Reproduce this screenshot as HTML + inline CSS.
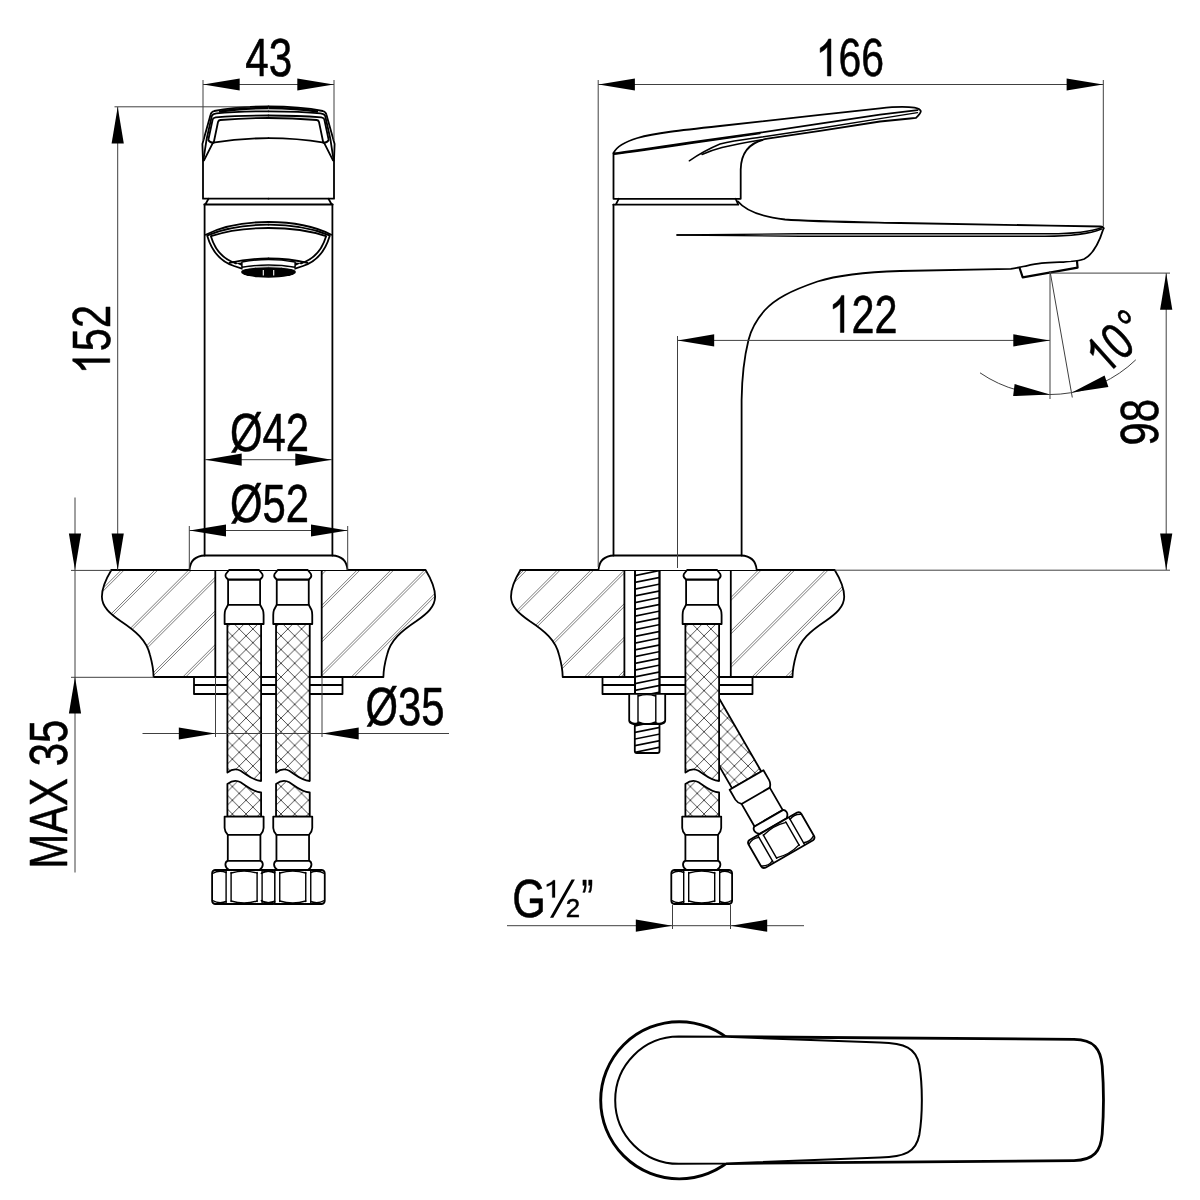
<!DOCTYPE html>
<html><head><meta charset="utf-8"><title>Faucet dimensions</title>
<style>
html,body{margin:0;padding:0;background:#fff}
svg{display:block;will-change:transform}
.k{fill:none;stroke:#000;stroke-width:1.8;stroke-linecap:round;stroke-linejoin:round}
.kw{fill:#fff;stroke:#000;stroke-width:1.8;stroke-linecap:round;stroke-linejoin:round}
.k2{fill:none;stroke:#000;stroke-width:1.4;stroke-linecap:round;stroke-linejoin:round}
.t{fill:none;stroke:#404040;stroke-width:1}
.a{fill:#000;stroke:none}
.h{fill:none;stroke:#5a5a5a;stroke-width:0.8}
text{font-family:"Liberation Sans",sans-serif;font-size:53px;fill:#000;stroke:#000;stroke-width:0.55px;stroke-linejoin:round}
</style></head><body>
<svg width="1200" height="1200" viewBox="0 0 1200 1200">
<rect width="1200" height="1200" fill="#fff"/>
<defs>
<path id="one" transform="scale(0.025879,-0.02525)" d="M763 0H583V1147Q518 1085 412.5 1023T223 930V1104Q373 1174.5 485 1274.5T644 1469H763V0Z" fill="#000" stroke="#000" stroke-width="21" stroke-linejoin="round"/>
<pattern id="braid" width="13.7" height="13.7" patternUnits="userSpaceOnUse" patternTransform="translate(-4.9,629)">
<path d="M0,0L13.7,13.7M13.7,0L0,13.7" stroke="#3a3a3a" stroke-width="0.9" fill="none"/>
</pattern>

<pattern id="braidG" width="13.7" height="13.7" patternUnits="userSpaceOnUse" patternTransform="translate(727.5,731.7)"><path d="M0,0L13.7,13.7M13.7,0L0,13.7" stroke="#3a3a3a" stroke-width="0.9" fill="none"/></pattern>
<path id="ctR" d="M53.2,570 L157.1,570 C162,578 166.6,588 166.6,596.7 C166.6,607 158,614 148,621 C133,631 122,640 118.5,655 C116,664 115,670 114.9,677 L53.2,677 Z"/>
<clipPath id="clipF"><use href="#ctR" transform="translate(268.5,0)"/><use href="#ctR" transform="translate(268.5,0) scale(-1,1)"/></clipPath>
<clipPath id="clipS"><use href="#ctR" transform="translate(677.6,0)"/><use href="#ctR" transform="translate(677.6,0) scale(-1,1)"/></clipPath>
<g id="hend">
<path class="kw" d="M-19.5,-53.4 L19.5,-53.4 L19.5,-42 Q19.3,-38 16.3,-35.2 L16.3,-9.2 L-16.3,-9.2 L-16.3,-35.2 Q-19.3,-38 -19.5,-42 Z"/>
<path class="k" d="M-16.3,-35.2 L16.3,-35.2"/>
<path class="kw" d="M-16.3,-9.2 Q-18.7,-8.5 -18.7,-5.5 Q-18.7,-2.5 -15.5,-0.2 L15.5,-0.2 Q18.7,-2.5 18.7,-5.5 Q18.7,-8.5 16.3,-9.2 Z"/>
<path class="kw" d="M-29.0,0 L29.0,0 Q32.0,0.5 32.0,3.5 L32.0,30.5 Q32.0,33.5 29.0,34.0 L-29.0,34.0 Q-32.0,33.5 -32.0,30.5 L-32.0,3.5 Q-32.0,0.5 -29.0,0 Z"/>
<path class="k2" d="M-18,0.5 L-18,33.5 M-13,2.5 L-13,31.5 M18,0.5 L18,33.5 M13,2.5 L13,31.5"/>
<path class="k2" d="M-13,3 Q0,-0.8 13,3 M-13,31.0 Q0,34.8 13,31.0"/>
<path class="k2" d="M-31.5,3.5 Q-25.0,-0.3 -18,2.5 M-31.5,30.5 Q-25.0,34.3 -18,31.5 M31.5,3.5 Q25.0,-0.3 18,2.5 M31.5,30.5 Q25.0,34.3 18,31.5"/>
</g>
<g id="hend2">
<path class="kw" d="M-19.5,-53.4 L19.5,-53.4 L19.5,-42 Q19.3,-38 16.3,-35.2 L16.3,-9.2 L-16.3,-9.2 L-16.3,-35.2 Q-19.3,-38 -19.5,-42 Z"/>
<path class="k" d="M-16.3,-35.2 L16.3,-35.2"/>
<path class="kw" d="M-16.3,-9.2 Q-18.7,-8.5 -18.7,-5.5 Q-18.7,-2.5 -15.5,-0.2 L15.5,-0.2 Q18.7,-2.5 18.7,-5.5 Q18.7,-8.5 16.3,-9.2 Z"/>
<path d="M-17.5,0 L32.0,0 L32.0,34.0 L-17.5,34.0 Z" fill="#fff"/>
<path class="k" d="M-18,0 L29.0,0 Q32.0,0.5 32.0,3.5 L32.0,30.5 Q32.0,33.5 29.0,34.0 L-18,34.0"/>
<path class="k2" d="M-18,0.5 L-18,33.5 M-13,2.5 L-13,31.5 M18,0.5 L18,33.5 M13,2.5 L13,31.5"/>
<path class="k2" d="M-13,3 Q0,-0.8 13,3 M-13,31.0 Q0,34.8 13,31.0"/>
<path class="k2" d="M-31.5,3.5 Q-25.0,-0.3 -18,2.5 M-31.5,30.5 Q-25.0,34.3 -18,31.5 M31.5,3.5 Q25.0,-0.3 18,2.5 M31.5,30.5 Q25.0,34.3 18,31.5"/>
</g>
<g id="hend3">
<path class="kw" d="M-19.5,-53.4 L19.5,-53.4 L19.5,-42 Q19.3,-38 16.3,-35.2 L16.3,-9.2 L-16.3,-9.2 L-16.3,-35.2 Q-19.3,-38 -19.5,-42 Z"/>
<path class="k" d="M-16.3,-35.2 L16.3,-35.2"/>
<path class="kw" d="M-16.3,-9.2 Q-18.7,-8.5 -18.7,-5.5 Q-18.7,-2.5 -15.5,-0.2 L15.5,-0.2 Q18.7,-2.5 18.7,-5.5 Q18.7,-8.5 16.3,-9.2 Z"/>
<path class="kw" d="M-27.5,0 L27.5,0 Q30.5,0.5 30.5,3.5 L30.5,28.5 Q30.5,31.5 27.5,32.0 L-27.5,32.0 Q-30.5,31.5 -30.5,28.5 L-30.5,3.5 Q-30.5,0.5 -27.5,0 Z"/>
<path class="k2" d="M-18,0.5 L-18,31.5 M-13,2.5 L-13,29.5 M18,0.5 L18,31.5 M13,2.5 L13,29.5"/>
<path class="k2" d="M-13,3 Q0,-0.8 13,3 M-13,29.0 Q0,32.8 13,29.0"/>
<path class="k2" d="M-30.0,3.5 Q-24.2,-0.3 -18,2.5 M-30.0,28.5 Q-24.2,32.3 -18,29.5 M30.0,3.5 Q24.2,-0.3 18,2.5 M30.0,28.5 Q24.2,32.3 18,29.5"/>
</g>
<g id="hend4">
<path class="kw" d="M-19.5,-53.4 L19.5,-53.4 L19.5,-42 Q19.3,-38 16.3,-35.2 L16.3,-9.2 L-16.3,-9.2 L-16.3,-35.2 Q-19.3,-38 -19.5,-42 Z"/>
<path class="k" d="M-16.3,-35.2 L16.3,-35.2"/>
<path class="kw" d="M-16.3,-9.2 Q-18.7,-8.5 -18.7,-5.5 Q-18.7,-2.5 -15.5,-0.2 L15.5,-0.2 Q18.7,-2.5 18.7,-5.5 Q18.7,-8.5 16.3,-9.2 Z"/>
<path class="kw" d="M-27.4,0 L27.4,0 Q30.4,0.5 30.4,3.5 L30.4,30.5 Q30.4,33.5 27.4,34.0 L-27.4,34.0 Q-30.4,33.5 -30.4,30.5 L-30.4,3.5 Q-30.4,0.5 -27.4,0 Z"/>
<path class="k2" d="M-18,0.5 L-18,33.5 M-13,2.5 L-13,31.5 M18,0.5 L18,33.5 M13,2.5 L13,31.5"/>
<path class="k2" d="M-13,3 Q0,-0.8 13,3 M-13,31.0 Q0,34.8 13,31.0"/>
<path class="k2" d="M-29.9,3.5 Q-24.2,-0.3 -18,2.5 M-29.9,30.5 Q-24.2,34.3 -18,31.5 M29.9,3.5 Q24.2,-0.3 18,2.5 M29.9,30.5 Q24.2,34.3 18,31.5"/>
</g>
<g id="htop">
<path class="kw" d="M-16,579.5 L-16,604.8 L16,604.8 L16,579.5 Z"/>
<path class="kw" d="M-15,570 L-18.2,574 Q-19.2,576.5 -17.5,578 L-16,579.5 L16,579.5 L17.5,578 Q19.2,576.5 18.2,574 L15,570 Z"/>
<path class="kw" d="M-16,604.8 L-18.8,610 Q-19.5,612 -19.5,615 L-19.5,624 L19.5,624 L19.5,615 Q19.5,612 18.8,610 L16,604.8 Z"/>
</g>
</defs>
<g id="front">
<g clip-path="url(#clipF)">
<line class="h" x1="-210.7" y1="565" x2="-327.7" y2="682"/>
<line class="h" x1="-207.8" y1="565" x2="-324.8" y2="682"/>
<line class="h" x1="-177.0" y1="565" x2="-294.0" y2="682"/>
<line class="h" x1="-174.1" y1="565" x2="-291.1" y2="682"/>
<line class="h" x1="-143.3" y1="565" x2="-260.3" y2="682"/>
<line class="h" x1="-140.4" y1="565" x2="-257.4" y2="682"/>
<line class="h" x1="-109.6" y1="565" x2="-226.6" y2="682"/>
<line class="h" x1="-106.7" y1="565" x2="-223.7" y2="682"/>
<line class="h" x1="-75.9" y1="565" x2="-192.9" y2="682"/>
<line class="h" x1="-73.0" y1="565" x2="-190.0" y2="682"/>
<line class="h" x1="-42.2" y1="565" x2="-159.2" y2="682"/>
<line class="h" x1="-39.3" y1="565" x2="-156.3" y2="682"/>
<line class="h" x1="-8.5" y1="565" x2="-125.5" y2="682"/>
<line class="h" x1="-5.6" y1="565" x2="-122.6" y2="682"/>
<line class="h" x1="25.2" y1="565" x2="-91.8" y2="682"/>
<line class="h" x1="28.1" y1="565" x2="-88.9" y2="682"/>
<line class="h" x1="58.9" y1="565" x2="-58.1" y2="682"/>
<line class="h" x1="61.8" y1="565" x2="-55.2" y2="682"/>
<line class="h" x1="92.6" y1="565" x2="-24.4" y2="682"/>
<line class="h" x1="95.5" y1="565" x2="-21.5" y2="682"/>
<line class="h" x1="126.3" y1="565" x2="9.3" y2="682"/>
<line class="h" x1="129.2" y1="565" x2="12.2" y2="682"/>
<line class="h" x1="160.0" y1="565" x2="43.0" y2="682"/>
<line class="h" x1="162.9" y1="565" x2="45.9" y2="682"/>
<line class="h" x1="193.7" y1="565" x2="76.7" y2="682"/>
<line class="h" x1="196.6" y1="565" x2="79.6" y2="682"/>
<line class="h" x1="227.4" y1="565" x2="110.4" y2="682"/>
<line class="h" x1="230.3" y1="565" x2="113.3" y2="682"/>
<line class="h" x1="261.1" y1="565" x2="144.1" y2="682"/>
<line class="h" x1="264.0" y1="565" x2="147.0" y2="682"/>
<line class="h" x1="294.8" y1="565" x2="177.8" y2="682"/>
<line class="h" x1="297.7" y1="565" x2="180.7" y2="682"/>
<line class="h" x1="328.5" y1="565" x2="211.5" y2="682"/>
<line class="h" x1="331.4" y1="565" x2="214.4" y2="682"/>
<line class="h" x1="362.2" y1="565" x2="245.2" y2="682"/>
<line class="h" x1="365.1" y1="565" x2="248.1" y2="682"/>
<line class="h" x1="395.9" y1="565" x2="278.9" y2="682"/>
<line class="h" x1="398.8" y1="565" x2="281.8" y2="682"/>
<line class="h" x1="429.6" y1="565" x2="312.6" y2="682"/>
<line class="h" x1="432.5" y1="565" x2="315.5" y2="682"/>
<line class="h" x1="463.3" y1="565" x2="346.3" y2="682"/>
<line class="h" x1="466.2" y1="565" x2="349.2" y2="682"/>
<line class="h" x1="497.0" y1="565" x2="380.0" y2="682"/>
<line class="h" x1="499.9" y1="565" x2="382.9" y2="682"/>
</g>
<path class="k" d="M194,677 L194,694 L342.5,694 L342.5,677 Z M194,685 L342.5,685"/>
<g transform="translate(268.5,0)">
<path class="k" d="M-53.2,570 L-53.2,677 M53.2,570 L53.2,677"/>
<path class="k" d="M-157.1,570 L157.1,570 C162,578 166.6,588 166.6,596.7 C166.6,607 158,614 148,621 C133,631 122,640 118.5,655 C116,664 115,670 114.9,677 L53.2,677"/>
<g transform="scale(-1,1)">
<path class="k" d="M157.1,570 C162,578 166.6,588 166.6,596.7 C166.6,607 158,614 148,621 C133,631 122,640 118.5,655 C116,664 115,670 114.9,677 L53.2,677"/>
</g>
</g>
<path class="kw" d="M189.5,570 Q190.5,556 205,555.5 L332,555.5 Q346.5,556 347.5,570"/>
<path class="k" d="M204.6,204.5 L204.6,555.5 M332.4,204.5 L332.4,555.5"/>
<path class="k" d="M204.3,204.5 L332.7,204.5 M208.5,198.7 L205.3,204.5 M328.5,198.7 L331.7,204.5"/>
<g id="fh" style="stroke-linecap:butt">
<path d="M268.5,108 C248,108 230,109.8 219,111.6" fill="none" stroke="#000" stroke-width="2.4"/>
<path class="k" d="M268.5,106.4 C248,106.4 226,108.6 214.3,111 Q211.3,111.8 210.7,114.3 L202.4,144 L203,160.7 L203,198.7 L268.5,198.7"/>
<path class="k" d="M268.5,111.3 C250,111.3 232,111.7 216.5,113.4 Q212.6,113.9 211.8,116 L206.7,138.7 L203.3,160.7"/>
<path class="k" d="M268.5,115.5 C250,115.5 230,116.2 215.7,117.3 Q213.2,117.7 212.7,119.3 L208.3,140 Q209.5,142.5 213,142.7"/>
<path class="k" d="M268.5,118 C250,118 235,118.8 220.3,120 Q218.4,120.3 218,122 L213.7,142.7"/>
<path class="k" d="M213,142.7 C232,139.5 250,138.2 268.5,138.2"/>
<path class="k" d="M213,142.7 L204,160.3"/>
<path class="k" d="M205.7,234.7 C222,226.5 245,222 268.5,222"/>
<path class="k" d="M207.5,235.3 C224,228.5 246,224.7 268.5,224.7"/>
<path class="k" d="M211,236.2 C226,231 247,228 268.5,228"/>
<path class="k" d="M207.3,236 C212,252 222,262 234,266 L242,268.7"/>
<path class="k" d="M211,236.5 C215,250 224,259.5 236,263.3"/>
<path class="k" d="M229.5,262.8 C243,259.6 256,258.5 268.5,258.5"/>
<path class="k" d="M234,262 L236,263.3"/>
</g>
<use href="#fh" transform="translate(537,0) scale(-1,1)"/>
<ellipse cx="268.5" cy="272" rx="27.4" ry="5.8" fill="#000"/>
<path d="M241.9,262 Q268.5,257 295.1,262 L295.1,267.3 Q268.5,262.7 241.9,267.3 Z" fill="#fff" stroke="#000" stroke-width="1.5" stroke-linejoin="round"/>
<path d="M242.5,268.8 Q268.5,264.6 294.5,268.8" fill="none" stroke="#fff" stroke-width="0.9"/>
<path d="M263.3,270 L263.3,275.5 M273.7,270 L273.7,275.5" stroke="#fff" stroke-width="1.1" fill="none"/>
<path d="M236,263 L241.9,262.6 L241.9,266 Z M301,263 L295.1,262.6 L295.1,266 Z" fill="#000"/>
<g transform="translate(244.10,0)">
<path d="M-16.7,624 L-16.7,772.5 C-12.5,769.3 -8,768.3 -3.5,770.8 C2.5,774.5 8,780.3 17,781 L17,624 Z" fill="#fff"/>
<path d="M-16.7,624 L-16.7,772.5 C-12.5,769.3 -8,768.3 -3.5,770.8 C2.5,774.5 8,780.3 17,781 L17,624 Z" class="k" style="fill:url(#braid)"/>
<path d="M-16.7,816.6 L-16.7,784 C-12.5,780.8 -8,779.8 -3.5,782.3 C2.5,786 8,791.8 17,792.5 L17,816.6 Z" fill="#fff"/>
<path d="M-16.7,816.6 L-16.7,784 C-12.5,780.8 -8,779.8 -3.5,782.3 C2.5,786 8,791.8 17,792.5 L17,816.6 Z" class="k" style="fill:url(#braid)"/>
<use href="#htop"/>
</g>
<g transform="translate(292.75,0)">
<path d="M-16.7,624 L-16.7,772.5 C-12.5,769.3 -8,768.3 -3.5,770.8 C2.5,774.5 8,780.3 17,781 L17,624 Z" fill="#fff"/>
<path d="M-16.7,624 L-16.7,772.5 C-12.5,769.3 -8,768.3 -3.5,770.8 C2.5,774.5 8,780.3 17,781 L17,624 Z" class="k" style="fill:url(#braid)"/>
<path d="M-16.7,816.6 L-16.7,784 C-12.5,780.8 -8,779.8 -3.5,782.3 C2.5,786 8,791.8 17,792.5 L17,816.6 Z" fill="#fff"/>
<path d="M-16.7,816.6 L-16.7,784 C-12.5,780.8 -8,779.8 -3.5,782.3 C2.5,786 8,791.8 17,792.5 L17,816.6 Z" class="k" style="fill:url(#braid)"/>
<use href="#htop"/>
</g>
<use href="#hend" transform="translate(244.1,870)"/>
<use href="#hend2" transform="translate(292.75,870)"/>
<line class="t" x1="203.0" y1="80.0" x2="203.0" y2="140.0"/>
<line class="t" x1="334.0" y1="80.0" x2="334.0" y2="140.0"/>
<line class="t" x1="203.0" y1="84.5" x2="334.0" y2="84.5"/>
<polygon class="a" points="203.3,84.5 239.7,78.4 239.7,90.6"/>
<polygon class="a" points="333.7,84.5 297.3,78.4 297.3,90.6"/>
<g transform="translate(245.2,76.0) scale(0.796,1)">
<text x="0.00" y="0">43</text>
</g>
<line class="t" x1="114.5" y1="106.8" x2="250.0" y2="106.8"/>
<line class="t" x1="117.7" y1="107.0" x2="117.7" y2="570.0"/>
<polygon class="a" points="117.7,107.0 111.6,143.4 123.8,143.4"/>
<polygon class="a" points="117.7,570.0 111.6,533.6 123.8,533.6"/>
<g transform="translate(109.8,374.2) rotate(-90) scale(0.782,1)">
<use href="#one" x="0" y="0" transform="translate(0.00,0)"/>
<text x="29.48" y="0">52</text>
</g>
<line class="t" x1="205.0" y1="459.7" x2="332.0" y2="459.7"/>
<polygon class="a" points="205.3,459.7 241.7,453.6 241.7,465.8"/>
<polygon class="a" points="331.7,459.7 295.3,453.6 295.3,465.8"/>
<g transform="translate(229.9,451.0) scale(0.789,1)">
<text x="0.00" y="0">Ø42</text>
</g>
<line class="t" x1="189.3" y1="526.0" x2="189.3" y2="570.0"/>
<line class="t" x1="347.7" y1="526.0" x2="347.7" y2="570.0"/>
<line class="t" x1="189.3" y1="530.5" x2="347.7" y2="530.5"/>
<polygon class="a" points="189.6,530.5 226.0,524.4 226.0,536.6"/>
<polygon class="a" points="347.4,530.5 311.0,524.4 311.0,536.6"/>
<g transform="translate(229.9,522.0) scale(0.789,1)">
<text x="0.00" y="0">Ø52</text>
</g>
<line class="t" x1="71.0" y1="570.4" x2="111.0" y2="570.4"/>
<line class="t" x1="71.0" y1="677.3" x2="154.0" y2="677.3"/>
<line class="t" x1="75.0" y1="497.5" x2="75.0" y2="570.0"/>
<line class="t" x1="75.0" y1="570.0" x2="75.0" y2="872.5"/>
<polygon class="a" points="75.0,570.0 68.9,533.6 81.1,533.6"/>
<polygon class="a" points="75.0,677.0 68.9,713.4 81.1,713.4"/>
<g transform="translate(67.0,868.7) rotate(-90) scale(0.790,1)">
<text x="0.00" y="0">MAX 35</text>
</g>
<line class="t" x1="215.5" y1="677.0" x2="215.5" y2="737.0"/>
<line class="t" x1="322.0" y1="677.0" x2="322.0" y2="737.0"/>
<line class="t" x1="142.5" y1="733.5" x2="449.0" y2="733.5"/>
<polygon class="a" points="215.2,733.5 178.8,727.4 178.8,739.6"/>
<polygon class="a" points="322.3,733.5 358.7,727.4 358.7,739.6"/>
<g transform="translate(365.4,724.6) scale(0.789,1)">
<text x="0.00" y="0">Ø35</text>
</g>
</g>
<g id="side">
<g clip-path="url(#clipS)">
<line class="h" x1="428.4" y1="565" x2="311.4" y2="682"/>
<line class="h" x1="431.3" y1="565" x2="314.3" y2="682"/>
<line class="h" x1="461.9" y1="565" x2="344.9" y2="682"/>
<line class="h" x1="464.8" y1="565" x2="347.8" y2="682"/>
<line class="h" x1="495.4" y1="565" x2="378.4" y2="682"/>
<line class="h" x1="498.3" y1="565" x2="381.3" y2="682"/>
<line class="h" x1="528.9" y1="565" x2="411.9" y2="682"/>
<line class="h" x1="531.8" y1="565" x2="414.8" y2="682"/>
<line class="h" x1="562.4" y1="565" x2="445.4" y2="682"/>
<line class="h" x1="565.3" y1="565" x2="448.3" y2="682"/>
<line class="h" x1="595.9" y1="565" x2="478.9" y2="682"/>
<line class="h" x1="598.8" y1="565" x2="481.8" y2="682"/>
<line class="h" x1="629.4" y1="565" x2="512.4" y2="682"/>
<line class="h" x1="632.3" y1="565" x2="515.3" y2="682"/>
<line class="h" x1="662.9" y1="565" x2="545.9" y2="682"/>
<line class="h" x1="665.8" y1="565" x2="548.8" y2="682"/>
<line class="h" x1="696.4" y1="565" x2="579.4" y2="682"/>
<line class="h" x1="699.3" y1="565" x2="582.3" y2="682"/>
<line class="h" x1="729.9" y1="565" x2="612.9" y2="682"/>
<line class="h" x1="732.8" y1="565" x2="615.8" y2="682"/>
<line class="h" x1="763.4" y1="565" x2="646.4" y2="682"/>
<line class="h" x1="766.3" y1="565" x2="649.3" y2="682"/>
<line class="h" x1="796.9" y1="565" x2="679.9" y2="682"/>
<line class="h" x1="799.8" y1="565" x2="682.8" y2="682"/>
<line class="h" x1="830.4" y1="565" x2="713.4" y2="682"/>
<line class="h" x1="833.3" y1="565" x2="716.3" y2="682"/>
<line class="h" x1="863.9" y1="565" x2="746.9" y2="682"/>
<line class="h" x1="866.8" y1="565" x2="749.8" y2="682"/>
<line class="h" x1="897.4" y1="565" x2="780.4" y2="682"/>
<line class="h" x1="900.3" y1="565" x2="783.3" y2="682"/>
<line class="h" x1="930.9" y1="565" x2="813.9" y2="682"/>
<line class="h" x1="933.8" y1="565" x2="816.8" y2="682"/>
<line class="h" x1="964.4" y1="565" x2="847.4" y2="682"/>
<line class="h" x1="967.3" y1="565" x2="850.3" y2="682"/>
</g>
<path class="k" d="M602.5,677 L602.5,694 L752.5,694 L752.5,677 Z M602.5,685 L752.5,685"/>
<g transform="translate(677.6,0)">
<path class="k" d="M-53.2,570 L-53.2,677 M53.2,570 L53.2,677"/>
<path class="k" d="M-157.1,570 L157.1,570 C162,578 166.6,588 166.6,596.7 C166.6,607 158,614 148,621 C133,631 122,640 118.5,655 C116,664 115,670 114.9,677 L53.2,677"/>
<g transform="scale(-1,1)">
<path class="k" d="M157.1,570 C162,578 166.6,588 166.6,596.7 C166.6,607 158,614 148,621 C133,631 122,640 118.5,655 C116,664 115,670 114.9,677 L53.2,677"/>
</g>
</g>
<clipPath id="rodc"><rect x="635" y="570" width="24.5" height="183"/></clipPath>
<rect class="kw" x="635" y="570" width="24.5" height="124.5"/>
<path class="kw" d="M634.8,724 L634.8,751 Q634.8,753 636.8,753 L657.5,753 Q659.5,753 659.5,751 L659.5,724 Z"/>
<g clip-path="url(#rodc)">
<line x1="634" y1="562.3" x2="661" y2="556.8" stroke="#000" stroke-width="1.7"/>
<line x1="634" y1="569.1" x2="661" y2="563.6" stroke="#000" stroke-width="1.7"/>
<line x1="634" y1="575.8" x2="661" y2="570.3" stroke="#000" stroke-width="1.7"/>
<line x1="634" y1="582.6" x2="661" y2="577.1" stroke="#000" stroke-width="1.7"/>
<line x1="634" y1="589.3" x2="661" y2="583.8" stroke="#000" stroke-width="1.7"/>
<line x1="634" y1="596.1" x2="661" y2="590.6" stroke="#000" stroke-width="1.7"/>
<line x1="634" y1="602.8" x2="661" y2="597.3" stroke="#000" stroke-width="1.7"/>
<line x1="634" y1="609.6" x2="661" y2="604.1" stroke="#000" stroke-width="1.7"/>
<line x1="634" y1="616.3" x2="661" y2="610.8" stroke="#000" stroke-width="1.7"/>
<line x1="634" y1="623.1" x2="661" y2="617.6" stroke="#000" stroke-width="1.7"/>
<line x1="634" y1="629.8" x2="661" y2="624.3" stroke="#000" stroke-width="1.7"/>
<line x1="634" y1="636.6" x2="661" y2="631.1" stroke="#000" stroke-width="1.7"/>
<line x1="634" y1="643.3" x2="661" y2="637.8" stroke="#000" stroke-width="1.7"/>
<line x1="634" y1="650.1" x2="661" y2="644.6" stroke="#000" stroke-width="1.7"/>
<line x1="634" y1="656.8" x2="661" y2="651.3" stroke="#000" stroke-width="1.7"/>
<line x1="634" y1="663.6" x2="661" y2="658.1" stroke="#000" stroke-width="1.7"/>
<line x1="634" y1="670.3" x2="661" y2="664.8" stroke="#000" stroke-width="1.7"/>
<line x1="634" y1="677.1" x2="661" y2="671.6" stroke="#000" stroke-width="1.7"/>
<line x1="634" y1="683.8" x2="661" y2="678.3" stroke="#000" stroke-width="1.7"/>
<line x1="634" y1="690.6" x2="661" y2="685.1" stroke="#000" stroke-width="1.7"/>
<line x1="634" y1="697.3" x2="661" y2="691.8" stroke="#000" stroke-width="1.7"/>
<line x1="634" y1="719.3" x2="661" y2="713.8" stroke="#000" stroke-width="1.7"/>
<line x1="634" y1="726.0" x2="661" y2="720.5" stroke="#000" stroke-width="1.7"/>
<line x1="634" y1="732.6" x2="661" y2="727.1" stroke="#000" stroke-width="1.7"/>
<line x1="634" y1="739.2" x2="661" y2="733.8" stroke="#000" stroke-width="1.7"/>
<line x1="634" y1="745.9" x2="661" y2="740.4" stroke="#000" stroke-width="1.7"/>
<line x1="634" y1="752.5" x2="661" y2="747.0" stroke="#000" stroke-width="1.7"/>
<line x1="634" y1="759.2" x2="661" y2="753.7" stroke="#000" stroke-width="1.7"/>
</g>
<rect class="k" x="635" y="570" width="24.5" height="124.5"/>
<path class="kw" d="M629.2,693.8 L665.2,693.8 L665.2,720.5 Q665,723.5 661,724 L633.4,724 Q629.4,723.5 629.2,720.5 Z"/>
<path class="k2" d="M638,695 L638,723 M655.8,695 L655.8,723 M638.3,696 Q647,693.3 655.5,696 M638.3,722 Q647,726 655.5,722 M629.5,721 Q633.5,725 638,722.5 M665,721 Q660.5,725 655.8,722.5"/>
<path class="kw" d="M598.5,570 Q599.5,556 614,555.5 L741,555.5 Q755.5,556 756.7,570"/>
<path class="k" d="M613.5,204.7 L613.5,555.5"/>
<path class="k" d="M741.6,555.5 L741.6,400 C741.9,380 743,362 748.5,340 C751,330 757,319 765,310 C775,299 790,291 817.5,281.5 C840,274.5 870,272 900,271 L1010.8,268.8 C1022,267.5 1030,264.5 1041.7,263.2 C1052,262.2 1062,262.2 1070.8,261.6 C1077,261 1081,260.3 1084.2,259 C1092,255 1099,243 1103.5,228.5"/>
<path class="k" d="M738,201.5 C745,210 760,216.5 785,219.5 C810,221.5 850,222 900,223 L1050,225.6 L1100,226.5 Q1104,226.8 1103.6,228.5"/>
<path class="k2" d="M677,235 L800,233.8 L1050,233.8 C1075,233.8 1090,232 1102,227.5"/>
<path class="k2" d="M677,235 L800,236.2 L1045,236.2 C1072,236.2 1088,234.5 1101.5,229"/>
<path d="M1019.6,268 L1022.7,277.4 L1077.6,267.6 L1077,261.5" fill="#fff" stroke="#000" stroke-width="2.2" stroke-linejoin="round" stroke-linecap="round"/>
<path class="k" d="M613.3,204.7 L738.3,204.7 M618.7,198.8 L615.8,204.7 M735.7,198.8 L738.2,204.5"/>
<path class="k" d="M740.7,198.8 L613.5,198.8 L613.5,153 C616,148 624,142 637.5,138 C655,133 680,130.3 720,126 L820,114.8 L880,108.3 C895,106.6 908,106.6 914.5,107.7 Q920,108.8 920.8,111 Q921,113 916,117.8 L910,118.5 L880,121.5 L820,130.8 L767.5,138.7 C752,141.5 741,150 740.7,169.5 Z"/>
<path class="k" d="M613.5,153.5 C630,151.5 660,147 690,142.5 L760,132.7 L820,123.7 L880,114.7 L917.5,110.2"/>
<path class="k2" d="M614,154.2 C630,152.3 660,148 690,143.5 L760,133.6"/>
<path class="k2" d="M689.3,160.8 C697,155.5 707,149.5 720,144 C735,140.3 748,139 760,137.3 L820,128.3 L880,118.6 L917.5,112.6"/>
<path class="k2" d="M702,154.5 C710,151 716,149 722,147.5 C735,144.3 748,142 762,139.7"/>
<path d="M732.1,788.4 L701.3,735.0 L710.5,683.5 L761.3,771.5 Z" fill="#fff"/>
<path d="M732.1,788.4 L701.3,735.0 L710.5,683.5 L761.3,771.5 Z" class="k" style="fill:url(#braidG)"/>
<use href="#hend3" transform="translate(773.25,826.25) rotate(-30.0)"/>
<g transform="translate(702.10,0)">
<path d="M-16.7,624 L-16.7,772.5 C-12.5,769.3 -8,768.3 -3.5,770.8 C2.5,774.5 8,780.3 17,781 L17,624 Z" fill="#fff"/>
<path d="M-16.7,624 L-16.7,772.5 C-12.5,769.3 -8,768.3 -3.5,770.8 C2.5,774.5 8,780.3 17,781 L17,624 Z" class="k" style="fill:url(#braid)"/>
<path d="M-16.7,816.6 L-16.7,784 C-12.5,780.8 -8,779.8 -3.5,782.3 C2.5,786 8,791.8 17,792.5 L17,816.6 Z" fill="#fff"/>
<path d="M-16.7,816.6 L-16.7,784 C-12.5,780.8 -8,779.8 -3.5,782.3 C2.5,786 8,791.8 17,792.5 L17,816.6 Z" class="k" style="fill:url(#braid)"/>
<use href="#htop"/>
</g>
<use href="#hend4" transform="translate(701.7,870)"/>
<line class="t" x1="598.2" y1="80.0" x2="598.2" y2="567.0"/>
<line class="t" x1="1103.3" y1="80.0" x2="1103.3" y2="226.0"/>
<line class="t" x1="598.2" y1="84.5" x2="1103.3" y2="84.5"/>
<polygon class="a" points="598.5,84.5 634.9,78.4 634.9,90.6"/>
<polygon class="a" points="1103.0,84.5 1066.6,78.4 1066.6,90.6"/>
<g transform="translate(815.7,76.0) scale(0.773,1)">
<use href="#one" x="0" y="0" transform="translate(0.00,0)"/>
<text x="29.48" y="0">66</text>
</g>
<line class="t" x1="677.5" y1="336.0" x2="677.5" y2="568.0"/>
<line class="t" x1="677.5" y1="340.4" x2="1050.0" y2="340.4"/>
<polygon class="a" points="677.8,340.4 714.2,334.3 714.2,346.5"/>
<polygon class="a" points="1049.7,340.4 1013.3,334.3 1013.3,346.5"/>
<g transform="translate(828.6,332.5) scale(0.780,1)">
<use href="#one" x="0" y="0" transform="translate(0.00,0)"/>
<text x="29.48" y="0">22</text>
</g>
<line class="t" x1="1050.0" y1="271.0" x2="1050.0" y2="399.0"/>
<line class="t" x1="1050.0" y1="271.0" x2="1072.3" y2="397.5"/>
<path class="t" d="M980.0,372.8 A123.5,123.5 0 0 0 1135.8,359.8"/>
<polygon class="a" points="1050.0,394.5 1013.1,396.1 1014.6,384.0"/>
<polygon class="a" points="1071.9,392.5 1104.6,375.5 1108.4,387.1"/>
<g transform="translate(1105.7,375.9) rotate(-42) scale(0.720,1)">
<use href="#one" x="0" y="0" transform="translate(0.00,0)"/>
<text x="29.48" y="0">0<tspan dx="4.4" dy="-1.7">°</tspan></text>
</g>
<line class="t" x1="1050.0" y1="273.1" x2="1170.0" y2="273.1"/>
<line class="t" x1="834.7" y1="570.2" x2="1170.0" y2="570.2"/>
<line class="t" x1="1166.2" y1="273.1" x2="1166.2" y2="570.0"/>
<polygon class="a" points="1166.2,273.3 1160.1,309.7 1172.3,309.7"/>
<polygon class="a" points="1166.2,570.0 1160.1,533.6 1172.3,533.6"/>
<g transform="translate(1157.5,445.6) rotate(-90) scale(0.790,1)">
<text x="0.00" y="0">98</text>
</g>
<line class="t" x1="672.5" y1="905.0" x2="672.5" y2="929.0"/>
<line class="t" x1="730.5" y1="905.0" x2="730.5" y2="929.0"/>
<line class="t" x1="507.0" y1="925.7" x2="804.0" y2="925.7"/>
<polygon class="a" points="672.2,925.7 635.8,919.6 635.8,931.8"/>
<polygon class="a" points="730.8,925.7 767.2,919.6 767.2,931.8"/>
<g transform="translate(512.2,917.0) scale(0.815,1)">
<text x="0.00" y="0">G</text>
</g>
<use href="#one" transform="translate(543.35,897.6) scale(0.59,0.471)"/>
<polygon class="a" points="550,917.7 553.3,917.7 574.9,879.5 571.6,879.5"/>
<text x="565.8" y="917.3" style="font-size:25.8px;stroke:#000;stroke-width:0.5">2</text>
<g transform="translate(581.4,917.0) scale(0.670,1)">
<text x="0.00" y="0">”</text>
</g>
</g>
<g id="top">
<circle cx="679.3" cy="1100.3" r="78.6" fill="none" stroke="#000" stroke-width="2.9"/>
<path d="M700,1036.3 L1078,1039.3 Q1103.3,1039.5 1103.3,1064 L1103.3,1136 Q1103.3,1160.5 1078,1160.7 L700,1163.7 Z" style="fill:#fff;stroke:none"/>
<path d="M726,1036.7 L1074,1039.4 C1094,1039.6 1100.8,1049 1102.2,1066 C1103.7,1086 1103.7,1114 1102.2,1134 C1100.8,1151 1094,1160.4 1074,1160.6 L726,1163.5" fill="none" stroke="#000" stroke-width="2.8" stroke-linecap="round"/>
<path d="M678.7,1036.6 A63.5,63.6 0 0 0 678.7,1163.8 L726,1163.4 L880,1157.6 C905,1157 916,1152 919.3,1135 C922.7,1115 922.7,1085 919.3,1065 C916,1048 905,1043.2 880,1042.6 L726,1036.8 Z" fill="#fff" stroke="#000" stroke-width="2" stroke-linejoin="round"/>
</g>
</svg></body></html>
